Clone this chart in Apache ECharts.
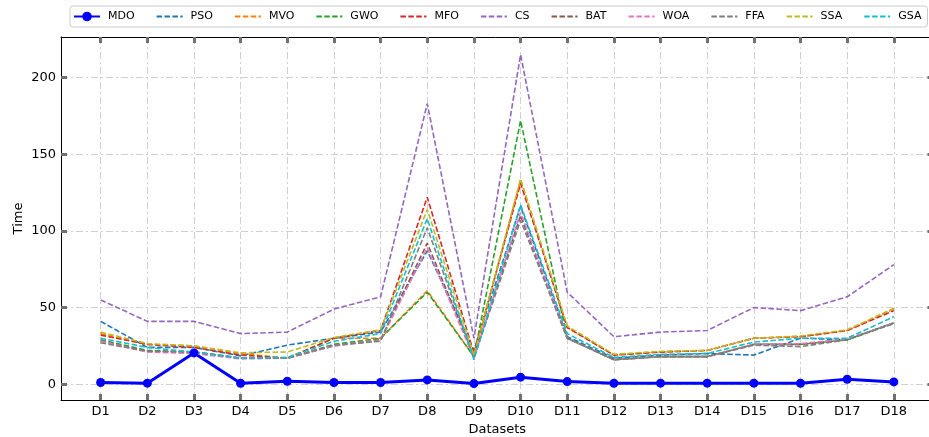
<!DOCTYPE html>
<html>
<head>
<meta charset="utf-8">
<script src="https://cdn.jsdelivr.net/npm/echarts@6/dist/echarts.min.js"></script>
<style>
  html, body { margin: 0; padding: 0; background: #fff; }
  #chart { width: 929px; height: 437px; }
</style>
</head>
<body>
<div id="chart"></div>
<script>
// Run time of each optimiser on the 18 datasets
const categories = ['D1','D2','D3','D4','D5','D6','D7','D8','D9','D10','D11','D12','D13','D14','D15','D16','D17','D18'];
const yTicks = [0, 50, 100, 150, 200];

const MDO = [1.1, 0.7, 20.4, 0.6, 1.9, 1.1, 1.1, 2.8, 0.4, 4.6, 1.7, 0.6, 0.7, 0.7, 0.7, 0.6, 3.2, 1.5];
const PSO = [41, 24, 24, 18.5, 25.5, 30, 34, 87, 22, 116, 31, 17, 19, 20, 19, 30, 29, 40];
const MVO = [33, 26, 25, 20, 17, 30, 30, 61, 18, 133, 37, 19, 21, 22, 30, 31, 35, 49];
const GWO = [29, 22, 21, 17, 17, 26, 30, 60, 18, 172, 30, 16, 18, 18, 26, 26, 29, 40];
const MFO = [32, 26, 24, 19, 17, 30, 35, 122, 20, 131, 37, 19, 21, 22, 30, 31, 35, 48];
const CS  = [55, 41, 41, 33, 34, 49, 57, 183, 30, 215, 60, 31, 34, 35, 50, 48, 57, 78];
const BAT = [28, 21.5, 21, 17, 17, 25, 29, 92, 18, 110, 30, 16, 18, 18, 26, 26, 29, 40];
const WOA = [28, 21, 20, 16.5, 17, 25, 28.5, 89, 17, 112, 30, 16, 18, 18, 26, 26.5, 29.5, 40];
const FFA = [27, 21.5, 21, 17, 17, 25.5, 28, 102, 17, 107, 30, 16, 18, 18, 25.5, 24.5, 29, 39.5];
const SSA = [34, 26.5, 25, 20.5, 21, 30.5, 35.5, 114, 19, 134, 38, 19.5, 21.5, 22, 30, 31.5, 35.5, 49.5];
const GSA = [30, 24, 21, 17, 17.5, 28, 33, 108, 16, 117, 33, 17.5, 19.5, 20, 27.5, 30, 30, 44];

const others = [
  ['PSO', PSO, '#1f77b4'],
  ['MVO', MVO, '#ff7f0e'],
  ['GWO', GWO, '#2ca02c'],
  ['MFO', MFO, '#d62728'],
  ['CS',  CS,  '#9467bd'],
  ['BAT', BAT, '#8c564b'],
  ['WOA', WOA, '#e377c2'],
  ['FFA', FFA, '#7f7f7f'],
  ['SSA', SSA, '#bcbd22'],
  ['GSA', GSA, '#17becf']
];

const xPositions = categories.map((c, i) => i + 1);
const pairs = vals => vals.map((v, i) => [i + 1, v]);

const FONT = 'DejaVu Sans';
const tickStyle = { show: true, inside: true, length: 6, lineStyle: { color: '#707070', width: 3 } };
const gridLine = { show: true, lineStyle: { color: '#d0d0d0', width: 1, type: [7, 3, 2, 3] } };
const frame = { show: true, onZero: false, lineStyle: { color: '#000', width: 1 } };

const series = [{
  name: 'MDO',
  type: 'line',
  data: pairs(MDO),
  symbol: 'circle',
  symbolSize: 9,
  showSymbol: true,
  color: '#0000ff',
  lineStyle: { color: '#0000ff', width: 3 },
  itemStyle: { color: '#0000ff' },
  animation: false
}].concat(others.map(([name, vals, color]) => ({
  name,
  type: 'line',
  data: pairs(vals),
  symbol: 'none',
  color,
  lineStyle: { color, width: 1.6, type: [5.5, 2.4] },
  animation: false
})));

// dashed entries show only their line in the legend
const legendData = [{ name: 'MDO' }].concat(others.map(o => ({
  name: o[0],
  itemStyle: { color: 'rgba(0,0,0,0)', borderWidth: 0, opacity: 0 }
})));

const chart = echarts.init(document.getElementById('chart'), null, { renderer: 'canvas' });
chart.setOption({
  backgroundColor: '#fff',
  animation: false,
  textStyle: { fontFamily: FONT },
  legend: {
    left: 70,
    top: 6,
    width: 900,
    padding: [5, 6, 5, 3],
    itemGap: 21,
    itemWidth: 26,
    itemHeight: 12,
    borderColor: '#cccccc',
    borderWidth: 1,
    borderRadius: 3,
    textStyle: { fontFamily: FONT, fontSize: 11, color: '#000', padding: [0, 0, 0, 3] },
    data: legendData
  },
  grid: { left: 61, right: -4.5, top: 37, bottom: 37, containLabel: false, outerBoundsMode: 'none' },
  xAxis: [{
    type: 'value',
    min: 0.15,
    max: 18.85,
    name: 'Datasets',
    nameLocation: 'middle',
    nameGap: 23,
    nameMoveOverlap: false,
    nameTextStyle: { fontFamily: FONT, fontSize: 13, color: '#000' },
    axisLine: frame,
    axisTick: Object.assign({ customValues: xPositions }, tickStyle),
    axisLabel: {
      customValues: xPositions,
      formatter: v => categories[Math.round(v) - 1],
      fontFamily: FONT, fontSize: 13, color: '#000', margin: 5
    },
    splitLine: gridLine
  }, {
    type: 'value',
    position: 'top',
    min: 0.15,
    max: 18.85,
    axisLine: frame,
    axisTick: Object.assign({ customValues: xPositions }, tickStyle),
    axisLabel: { show: false },
    splitLine: { show: false }
  }],
  yAxis: [{
    type: 'value',
    min: -10.3,
    max: 226.5,
    name: 'Time',
    nameLocation: 'middle',
    nameGap: 36,
    nameMoveOverlap: false,
    nameTextStyle: { fontFamily: FONT, fontSize: 13, color: '#000' },
    axisLine: frame,
    axisTick: Object.assign({ customValues: yTicks }, tickStyle),
    axisLabel: { customValues: yTicks, fontFamily: FONT, fontSize: 13, color: '#000', margin: 5 },
    splitLine: gridLine
  }, {
    type: 'value',
    position: 'right',
    min: -10.3,
    max: 226.5,
    axisLine: frame,
    axisTick: Object.assign({ customValues: yTicks }, tickStyle),
    axisLabel: { show: false },
    splitLine: { show: false }
  }],
  series
});
</script>
</body>
</html>
